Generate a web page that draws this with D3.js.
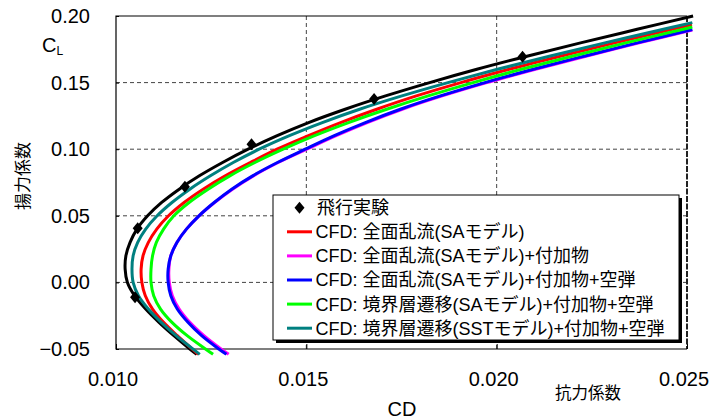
<!DOCTYPE html>
<html><head><meta charset="utf-8">
<script src="https://cdn.jsdelivr.net/npm/d3@7"></script>
<style>body{margin:0;background:#fff} svg{display:block}</style>
</head><body><svg id="c" width="710" height="420"></svg>
<script>
// ---- data ----
const xTicks = [0.010, 0.015, 0.020, 0.025];
const xTickLabels = ["0.010", "0.015", "0.020", "0.025"];
const yTicks = [-0.05, 0.00, 0.05, 0.10, 0.15, 0.20];
const yTickLabels = ["\u22120.05", "0.00", "0.05", "0.10", "0.15", "0.20"];

// CL values at which the curves were read
const clGrid = [-0.054, -0.05, -0.04, -0.03, -0.02, -0.01, 0.00, 0.01, 0.02, 0.03, 0.04, 0.05, 0.06, 0.07, 0.08, 0.09, 0.10, 0.11, 0.12, 0.13, 0.14, 0.15, 0.16, 0.17, 0.18];

// 飛行実験 fit curve (black)
const clTailFlightFit = [0.19, 0.20];
const cdFlightFit = [0.01212, 0.01194, 0.01152, 0.01113, 0.01078, 0.01049, 0.01030, 0.01024, 0.01026, 0.01037, 0.01055, 0.01083, 0.01120, 0.01166, 0.01219, 0.01280, 0.01347, 0.01422, 0.01506, 0.01602, 0.01708, 0.01824, 0.01948, 0.02082, 0.02223, 0.02369, 0.02516];
// CFD 全面乱流(SA) (red)
const clTailFullTurbSA = [0.19, 0.1935];
const cdFullTurbSA = [0.01216, 0.01200, 0.01161, 0.01125, 0.01096, 0.01077, 0.01068, 0.01066, 0.01071, 0.01085, 0.01107, 0.01138, 0.01179, 0.01229, 0.01287, 0.01353, 0.01423, 0.01504, 0.01590, 0.01685, 0.01789, 0.01906, 0.02033, 0.02170, 0.02313, 0.02461, 0.02513];
// CFD 全面乱流(SA)+付加物 (magenta)
const clTailFullTurbSAApp = [0.1895];
const cdFullTurbSAApp = [0.01296, 0.01276, 0.01231, 0.01194, 0.01166, 0.01148, 0.01140, 0.01139, 0.01144, 0.01160, 0.01185, 0.01218, 0.01259, 0.01306, 0.01361, 0.01426, 0.01501, 0.01577, 0.01660, 0.01752, 0.01857, 0.01974, 0.02102, 0.02237, 0.02377, 0.02514];
// CFD 全面乱流(SA)+付加物+空弾 (blue)
const clTailFullTurbSAAppAero = [0.1898];
const cdFullTurbSAAppAero = [0.01290, 0.01270, 0.01225, 0.01189, 0.01161, 0.01144, 0.01137, 0.01137, 0.01144, 0.01160, 0.01185, 0.01218, 0.01258, 0.01304, 0.01359, 0.01424, 0.01497, 0.01572, 0.01655, 0.01747, 0.01852, 0.01969, 0.02096, 0.02232, 0.02372, 0.02514];
// CFD 境界層遷移(SA)+付加物+空弾 (green)
const clTailTransSA = [0.19, 0.1917];
const cdTransSA = [0.01255, 0.01235, 0.01187, 0.01147, 0.01117, 0.01099, 0.01092, 0.01092, 0.01096, 0.01106, 0.01125, 0.01152, 0.01192, 0.01242, 0.01299, 0.01365, 0.01439, 0.01520, 0.01611, 0.01711, 0.01820, 0.01938, 0.02065, 0.02201, 0.02342, 0.02490, 0.02514];
// CFD 境界層遷移(SST)+付加物+空弾 (teal)
const clTailTransSST = [0.19, 0.195];
const cdTransSST = [0.01220, 0.01202, 0.01158, 0.01119, 0.01085, 0.01059, 0.01045, 0.01042, 0.01045, 0.01057, 0.01078, 0.01108, 0.01147, 0.01194, 0.01248, 0.01308, 0.01376, 0.01454, 0.01542, 0.01640, 0.01751, 0.01872, 0.02002, 0.02141, 0.02287, 0.02438, 0.02514];

// 飛行実験 points
const flightCD = [0.01050, 0.01057, 0.01181, 0.01356, 0.01678, 0.02068];
const flightCL = [-0.0112, 0.0406, 0.0719, 0.1037, 0.1377, 0.1695];

const seriesColors = ["#000000", "#ff0000", "#ff00ff", "#0000ff", "#00ff00", "#008080"];
const legendLabels = ["飛行実験", "CFD: 全面乱流(SAモデル)", "CFD: 全面乱流(SAモデル)+付加物", "CFD: 全面乱流(SAモデル)+付加物+空弾", "CFD: 境界層遷移(SAモデル)+付加物+空弾", "CFD: 境界層遷移(SSTモデル)+付加物+空弾"];

// ---- chart ----
const svg = d3.select("#c");
const LAT = "'Liberation Sans', Arial, 'Noto Sans CJK JP', sans-serif";
const x = d3.scaleLinear().domain([0.010, 0.025]).range([116, 687]);
const y = d3.scaleLinear().domain([-0.05, 0.20]).range([349, 16]);

// grid
const grid = svg.append("g");
grid.selectAll("line.h").data(yTicks.filter(v => v > -0.05 && v < 0.20)).join("line")
  .attr("x1", x(0.010)).attr("x2", x(0.025)).attr("y1", d => y(d)).attr("y2", d => y(d))
  .attr("stroke", "#444").attr("stroke-width", 1).attr("stroke-dasharray", "4,3");
grid.selectAll("line.v").data(xTicks.filter(v => v > 0.010 && v < 0.025)).join("line")
  .attr("y1", y(-0.05)).attr("y2", y(0.20)).attr("x1", d => x(d)).attr("x2", d => x(d))
  .attr("stroke", "#444").attr("stroke-width", 1).attr("stroke-dasharray", "4,3");
svg.append("line").attr("x1", x(0.025)).attr("x2", x(0.025)).attr("y1", y(0.20)).attr("y2", y(-0.05))
  .attr("stroke", "#222").attr("stroke-width", 2).attr("stroke-dasharray", "6,1.5");

// frame
svg.append("path")
  .attr("d", `M${x(0.025)},${y(0.20)}H${x(0.010)}V${y(-0.05)}H${x(0.025)}`)
  .attr("fill", "none").attr("stroke", "#000").attr("stroke-width", 1.2);

// axes
const yAxis = d3.axisLeft(y).tickValues(yTicks).tickSize(-3).tickPadding(26)
  .tickFormat((d, i) => yTickLabels[i]);
const gy = svg.append("g").attr("transform", `translate(${x(0.010)},0)`).call(yAxis);
gy.select(".domain").remove();
gy.selectAll("text").attr("font-family", LAT).attr("font-size", 20).attr("fill", "#000");

const xAxis = d3.axisBottom(x).tickValues(xTicks).tickSize(-5).tickPadding(23)
  .tickFormat((d, i) => xTickLabels[i]);
const gx = svg.append("g").attr("transform", `translate(0,${y(-0.05)})`).call(xAxis);
gx.select(".domain").remove();
gx.selectAll("text").attr("font-family", LAT).attr("font-size", 20).attr("fill", "#000").attr("dx", -3.5);

// axis titles
svg.append("text").attr("x", 402).attr("y", 408.5).attr("dy", "0.35em").attr("text-anchor", "middle")
  .attr("font-family", LAT).attr("font-size", 20).text("CD");
svg.append("text").attr("x", 588).attr("y", 393).attr("dy", "0.35em").attr("text-anchor", "middle")
  .attr("font-family", "'Noto Sans CJK JP', sans-serif").attr("font-size", 16.5).text("抗力係数");
svg.append("text").attr("transform", "translate(23,176) rotate(-90)").attr("dy", "0.35em").attr("text-anchor", "middle")
  .attr("font-family", "'Noto Sans CJK JP', sans-serif").attr("font-size", 17).text("揚力係数");
const cl = svg.append("text").attr("x", 42).attr("y", 52).attr("font-family", LAT).attr("font-size", 20);
cl.append("tspan").text("C");
cl.append("tspan").attr("font-size", 12).attr("dy", 3).text("L");

// curves
const curves = [
  [cdFlightFit, clGrid.concat(clTailFlightFit)],
  [cdFullTurbSA, clGrid.concat(clTailFullTurbSA)],
  [cdFullTurbSAApp, clGrid.concat(clTailFullTurbSAApp)],
  [cdFullTurbSAAppAero, clGrid.concat(clTailFullTurbSAAppAero)],
  [cdTransSA, clGrid.concat(clTailTransSA)],
  [cdTransSST, clGrid.concat(clTailTransSST)]
];
const line = d3.line().x(d => x(d[0])).y(d => y(d[1])).curve(d3.curveCatmullRom.alpha(0.5));
curves.forEach(([cds, cls], s) => {
  const pts = cds.map((c, i) => [c, cls[i]]);
  svg.append("path").datum(pts).attr("d", line)
    .attr("fill", "none").attr("stroke", seriesColors[s]).attr("stroke-width", 3)
    .attr("stroke-linejoin", "round");
});

// flight test markers
const diamond = "M0,-6L5,0L0,6L-5,0Z";
svg.selectAll("path.fm").data(flightCD.map((d, i) => [d, flightCL[i]])).join("path")
  .attr("class", "fm").attr("d", diamond)
  .attr("transform", d => `translate(${x(d[0])},${y(d[1])})`).attr("fill", "#000");

// legend
const lg = svg.append("g");
lg.append("rect").attr("x", 276).attr("y", 198).attr("width", 406).attr("height", 145).attr("fill", "#000");
lg.append("rect").attr("x", 273).attr("y", 195).attr("width", 406).attr("height", 145)
  .attr("fill", "#fff").attr("stroke", "#000").attr("stroke-width", 1);
legendLabels.forEach((lab, i) => {
  const cy = 207.7 + i * 24.1;
  if (i === 0) {
    lg.append("path").attr("d", diamond).attr("transform", `translate(299.5,${cy})`).attr("fill", "#000");
  } else {
    lg.append("line").attr("x1", 287).attr("x2", 312).attr("y1", cy).attr("y2", cy)
      .attr("stroke", seriesColors[i]).attr("stroke-width", 3);
  }
  lg.append("text").attr("x", i === 0 ? 317 : 315.5).attr("y", cy).attr("dy", "0.36em")
    .attr("font-family", LAT).attr("font-size", 18).text(lab);
});
</script></body></html>
